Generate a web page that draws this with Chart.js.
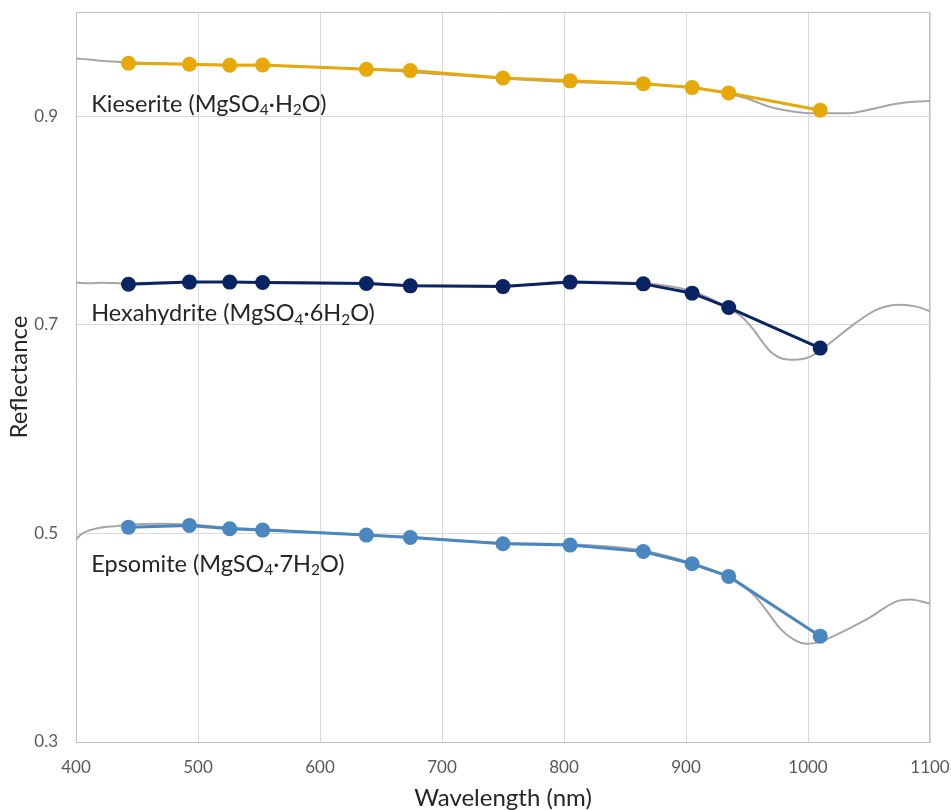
<!DOCTYPE html>
<html>
<head>
<meta charset="utf-8">
<script src="https://cdn.jsdelivr.net/npm/chart.js@4/dist/chart.umd.min.js"></script>
<style>
  html, body { margin: 0; padding: 0; background: #ffffff; }
  #wrap { width: 951px; height: 810px; position: relative; }
</style>
</head>
<body>
<div id="wrap"><canvas id="chart" width="951" height="810"></canvas></div>
<script>
// Band-averaged reflectance at the sensor band centres (nm)
const bandWavelengths = [443, 493, 526, 553, 638, 674, 750, 805, 865, 905, 935, 1010];

const kieseriteBands   = [0.9508, 0.9499, 0.9490, 0.9492, 0.9450, 0.9438, 0.9367, 0.9340, 0.9313, 0.9275, 0.9224, 0.9058];
const hexahydriteBands = [0.7390, 0.7410, 0.7410, 0.7406, 0.7396, 0.7374, 0.7367, 0.7410, 0.7393, 0.7304, 0.7166, 0.6777];
const epsomiteBands    = [0.5060, 0.5077, 0.5045, 0.5032, 0.4984, 0.4962, 0.4901, 0.4888, 0.4827, 0.4709, 0.4588, 0.4015];

// Laboratory reflectance spectra (gray curves)
const kieseriteSpecWl  = [400, 410, 420, 436, 460, 500, 550, 600, 650, 700, 750, 800, 850, 905, 935, 950, 969, 985, 1001, 1018, 1034, 1048, 1070, 1086, 1100];
const kieseriteSpec    = [0.9553, 0.9545, 0.9532, 0.9521, 0.9510, 0.9497, 0.9490, 0.9470, 0.9445, 0.9403, 0.9362, 0.9330, 0.9312, 0.9275, 0.9215, 0.9170, 0.9089, 0.9051, 0.9030, 0.9028, 0.9029, 0.9058, 0.9115, 0.9140, 0.9147];

const hexahydriteSpecWl = [400, 412, 420, 443, 493, 553, 638, 675, 750, 805, 865, 905, 935, 945, 955, 963, 970, 977, 983, 990, 1002, 1015, 1037, 1056, 1075, 1089, 1100];
const hexahydriteSpec   = [0.7405, 0.7398, 0.7404, 0.7398, 0.7412, 0.7410, 0.7398, 0.7380, 0.7374, 0.7415, 0.7400, 0.7322, 0.7160, 0.7085, 0.6960, 0.6830, 0.6735, 0.6685, 0.6668, 0.6666, 0.6696, 0.6799, 0.7000, 0.7144, 0.7192, 0.7175, 0.7130];

const epsomiteSpecWl = [400, 404, 409, 420, 433, 445, 469, 493, 526, 553, 600, 638, 675, 750, 805, 865, 905, 935, 948, 958, 966, 977, 988, 999, 1010, 1021, 1048, 1073, 1084, 1100];
const epsomiteSpec   = [0.4942, 0.4990, 0.5022, 0.5055, 0.5070, 0.5085, 0.5093, 0.5085, 0.5055, 0.5040, 0.5010, 0.4985, 0.4965, 0.4908, 0.4895, 0.4835, 0.4715, 0.4585, 0.4490, 0.4380, 0.4260, 0.4090, 0.3984, 0.3942, 0.3960, 0.4015, 0.4175, 0.4351, 0.4367, 0.4327];

// Mineral labels: text pieces ([text, subscript?]) and anchor in data units
const labelParts = [
  [["Kieserite (MgSO", 0], ["4", 1], ["\u00B7H", 0], ["2", 1], ["O)", 0]],
  [["Hexahydrite (MgSO", 0], ["4", 1], ["\u00B76H", 0], ["2", 1], ["O)", 0]],
  [["Epsomite (MgSO", 0], ["4", 1], ["\u00B77H", 0], ["2", 1], ["O)", 0]]
];
const labelWl  = [412.5, 412.5, 412.5];
const labelRef = [0.9115, 0.7105, 0.4703];

const xTicks = [400, 500, 600, 700, 800, 900, 1000, 1100];
const yTicks = [0.3, 0.5, 0.7, 0.9];

const COLORS = { kieserite: '#E7A90A', hexahydrite: '#0A2463', epsomite: '#4A87C0', spectrum: '#A6A6A6' };
const FONT = 'Lato, "Open Sans", sans-serif';

function pts(xs, ys) { return xs.map((x, i) => ({ x: x, y: ys[i] })); }

function bandSet(label, values, color) {
  return {
    label: label, data: pts(bandWavelengths, values),
    borderColor: color, backgroundColor: color,
    borderWidth: 3, pointRadius: 7.5, pointBorderWidth: 0, pointHoverRadius: 7.5,
    tension: 0, order: 0
  };
}
function specSet(label, xs, ys) {
  return {
    label: label, data: pts(xs, ys),
    borderColor: COLORS.spectrum, backgroundColor: COLORS.spectrum,
    borderWidth: 2, pointRadius: 0, cubicInterpolationMode: 'monotone', order: 1
  };
}

// Frame around the plot area (top and right edges)
const frame = {
  id: 'frame',
  beforeDatasetsDraw(chart) {
    const a = chart.chartArea, ctx = chart.ctx;
    ctx.save();
    ctx.strokeStyle = '#BFBFBF';
    ctx.lineWidth = 1;
    ctx.beginPath();
    ctx.moveTo(a.left, a.top + 0.5);
    ctx.lineTo(a.right - 0.5, a.top + 0.5);
    ctx.lineTo(a.right - 0.5, a.bottom);
    ctx.stroke();
    ctx.restore();
  }
};

// Mineral name labels with chemical subscripts
const mineralLabels = {
  id: 'mineralLabels',
  afterDatasetsDraw(chart) {
    const ctx = chart.ctx, xs = chart.scales.x, ys = chart.scales.y;
    const size = 23.5, subSize = 15.5;
    ctx.save();
    ctx.fillStyle = '#262626';
    ctx.textBaseline = 'middle';
    ctx.textAlign = 'left';
    labelParts.forEach((parts, i) => {
      let x = xs.getPixelForValue(labelWl[i]);
      const y = ys.getPixelForValue(labelRef[i]);
      parts.forEach(([txt, sub]) => {
        ctx.font = (sub ? subSize : size) + 'px ' + FONT;
        ctx.fillText(txt, x, sub ? y + 6 : y);
        x += ctx.measureText(txt).width;
      });
    });
    ctx.restore();
  }
};

new Chart(document.getElementById('chart'), {
  type: 'line',
  data: {
    datasets: [
      bandSet('Kieserite', kieseriteBands, COLORS.kieserite),
      bandSet('Hexahydrite', hexahydriteBands, COLORS.hexahydrite),
      bandSet('Epsomite', epsomiteBands, COLORS.epsomite),
      specSet('Kieserite spectrum', kieseriteSpecWl, kieseriteSpec),
      specSet('Hexahydrite spectrum', hexahydriteSpecWl, hexahydriteSpec),
      specSet('Epsomite spectrum', epsomiteSpecWl, epsomiteSpec)
    ]
  },
  plugins: [frame, mineralLabels],
  options: {
    responsive: false,
    animation: false,
    layout: { padding: { top: 12, right: 21, left: 0, bottom: 0 } },
    plugins: { legend: { display: false }, tooltip: { enabled: false } },
    scales: {
      x: {
        type: 'linear', min: 400, max: 1100,
        afterBuildTicks(s) { s.ticks = xTicks.map(v => ({ value: v })); },
        afterFit(s) { s.height = 68; s.paddingLeft = 0; s.paddingRight = 0; },
        grid: { color: '#D9D9D9', drawTicks: false },
        border: { color: '#BFBFBF' },
        ticks: { padding: 15, color: '#595959', font: { family: FONT, size: 17 }, callback: v => String(v) },
        title: {
          display: true, text: 'Wavelength (nm)', color: '#262626',
          font: { family: FONT, size: 24, lineHeight: 1.0 }, padding: { top: 0, bottom: 0 }
        }
      },
      y: {
        type: 'linear', min: 0.3, max: 1.0,
        afterBuildTicks(s) { s.ticks = yTicks.map(v => ({ value: v })); },
        afterFit(s) { s.width = 76; s.paddingTop = 0; s.paddingBottom = 0; },
        grid: { color: '#D9D9D9', drawTicks: false },
        border: { color: '#BFBFBF' },
        ticks: { padding: 18, color: '#595959', font: { family: FONT, size: 17 }, callback: v => v.toFixed(1) },
        title: {
          display: true, text: 'Reflectance', color: '#262626',
          font: { family: FONT, size: 24, lineHeight: 1.0 }, padding: { top: 7, bottom: 0 }
        }
      }
    }
  }
});
</script>
</body>
</html>
